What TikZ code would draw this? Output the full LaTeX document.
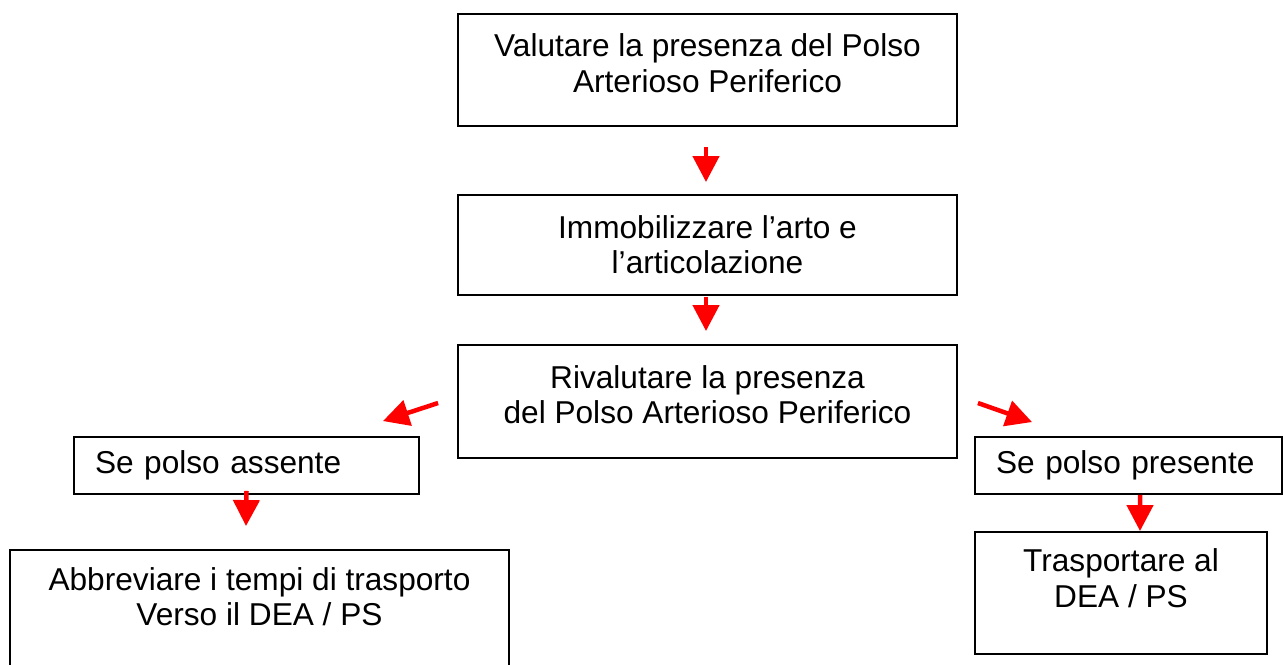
\documentclass[tikz,border=0pt]{standalone}
\usepackage{fontspec}
\setmainfont{Liberation Sans}
\usepackage{tikz}
\usetikzlibrary{arrows.meta}

\begin{document}
\begin{tikzpicture}[x=0.02cm, y=-0.02cm,
    box/.style={draw, line width=1.1pt, align=center, inner sep=0pt,
        font=\fontsize{18}{20}\selectfont},
    leftbox/.style={box, align=left, inner xsep=0.42cm},
    redarrow/.style={-{Triangle[length=0.52cm, width=0.52cm]}, line width=0.09cm, red}]

\useasboundingbox (0,0) rectangle (1283,664);

\coordinate (c1) at (707.5, 70);
        \coordinate (c2) at (707.5, 245);
        \coordinate (c3) at (707.5, 401.5);
        \coordinate (c4) at (246.5, 465.5);
        \coordinate (c5) at (259.5, 612.5);
        \coordinate (c6) at (1128.5, 465.5);
        \coordinate (c7) at (1121, 593);

\node[box, minimum width=9.98cm, minimum height=2.24cm, text depth=0.28cm] (valuta) at (c1)
    {Valutare la presenza del Polso\\Arterioso Periferico};
\node[box, minimum width=9.98cm, minimum height=2cm] (immobil) at (c2)
    {Immobilizzare l’arto e\\l’articolazione};
\node[box, minimum width=9.98cm, minimum height=2.26cm, text depth=0.28cm] (rivaluta) at (c3)
    {Rivalutare la presenza\\del Polso Arterioso Periferico};
\node[leftbox, text width=6.06cm, minimum height=1.14cm] (assente) at (c4)
    {Se polso assente};
\node[box, minimum width=9.98cm, minimum height=2.5cm, text depth=0.65cm] (abbrevia) at (c5)
    {Abbreviare i tempi di trasporto\\Verso il DEA / PS};
\node[leftbox, text width=5.3cm, minimum height=1.14cm] (presente) at (c6)
    {Se polso presente};
\node[box, minimum width=5.84cm, minimum height=2.44cm, text depth=0.6cm] (trasporta) at (c7)
    {Trasportare al\\DEA / PS};

\draw[redarrow] ([shift={(-1.5,20)}]valuta.south) -- ([shift={(-1.5,-12)}]immobil.north);
\draw[redarrow] ([shift={(-1.5,1)}]immobil.south) -- ([shift={(-1.5,-13)}]rivaluta.north);
\draw[redarrow] ([shift={(-19,1.5)}]rivaluta.west) -- ([shift={(-37,-15)}]assente.north east);
\draw[redarrow] ([shift={(20,1.5)}]rivaluta.east) -- ([shift={(58,-14)}]presente.north west);
\draw[redarrow] ([shift={(0,-4)}]assente.south) -- ([shift={(-13.5,-23)}]abbrevia.north);
\draw[redarrow] ([shift={(11.5,0)}]presente.south) -- ([shift={(19,0)}]trasporta.north);
\end{tikzpicture}
\end{document}
